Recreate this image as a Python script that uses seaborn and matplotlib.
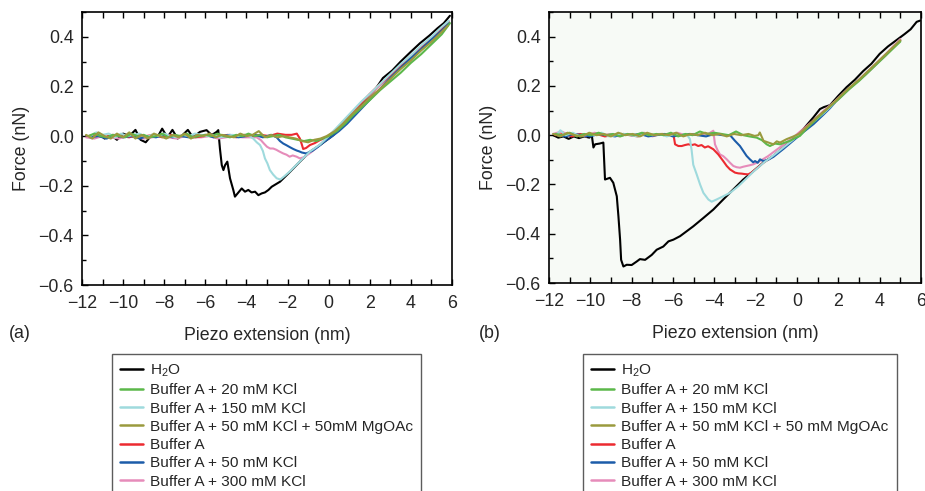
import pandas as pd
import matplotlib
matplotlib.use('Agg')
import matplotlib.pyplot as plt
from matplotlib.lines import Line2D
from matplotlib.ticker import MultipleLocator
import seaborn as sns

# 조건 이름 (범례 순서)
labels_a = ['H$_2$O', 'Buffer A + 20 mM KCl', 'Buffer A + 150 mM KCl',
            'Buffer A + 50 mM KCl + 50mM MgOAc', 'Buffer A',
            'Buffer A + 50 mM KCl', 'Buffer A + 300 mM KCl']
labels_b = ['H$_2$O', 'Buffer A + 20 mM KCl', 'Buffer A + 150 mM KCl',
            'Buffer A + 50 mM KCl + 50 mM MgOAc', 'Buffer A',
            'Buffer A + 50 mM KCl', 'Buffer A + 300 mM KCl']
colors = ['#000000', '#5cb84a', '#9fdadd', '#9a9a3e', '#ec2a30', '#1c5ca9', '#e68cba']
# 그리는 순서 (범례 인덱스)
draw_order = [0, 6, 4, 5, 2, 1, 3]

# ---------------- (a) ----------------
a_h2o_x = [-11.8, -11.5, -11.2, -10.9, -10.6, -10.3, -10.0, -9.7, -9.4, -9.15, -8.9, -8.6, -8.3, -8.1, -7.85,
           -7.6, -7.35, -7.1, -6.85, -6.6, -6.26, -5.94, -5.69, -5.45, -5.37, -5.29, -5.2, -5.12, -5.04, -4.93,
           -4.8, -4.64, -4.56, -4.4, -4.23, -4.07, -3.91, -3.75, -3.58, -3.42, -3.26, -3.1, -2.93, -2.77, -2.37,
           -1.88, -1.4, -0.91, -0.42, 0.23, 0.88, 1.3, 1.8, 2.2, 2.64, 3.1, 3.5, 4.0, 4.44, 4.9, 5.3, 5.6, 5.9]
a_h2o_y = [0.0, -0.005, 0.01, -0.01, 0.005, -0.015, 0.01, 0.0, 0.025, -0.015, -0.025, 0.005, 0.0, 0.03, -0.005,
           0.025, -0.01, 0.005, 0.025, -0.005, 0.017, 0.024, 0.004, 0.017, 0.024, -0.05, -0.117, -0.137, -0.117, -0.103,
           -0.17, -0.217, -0.244, -0.228, -0.211, -0.224, -0.217, -0.227, -0.224, -0.238, -0.231, -0.227, -0.217, -0.204, -0.184,
           -0.144, -0.103, -0.063, -0.036, 0.004, 0.071, 0.1, 0.145, 0.18, 0.234, 0.265, 0.3, 0.34, 0.374, 0.405, 0.435, 0.455, 0.485]

a_k20_x = [-11.7, -11.4, -11.1, -10.8, -10.5, -10.2, -9.9, -9.6, -9.3, -9.0, -8.7, -8.4, -8.1, -7.8, -7.5, -7.2,
           -6.9, -6.6, -6.3, -6.0, -5.7, -5.4, -5.1, -4.8, -4.5, -4.2, -3.9, -3.6, -3.3, -3.0, -2.7, -2.4, -2.1,
           -1.8, -1.5, -1.2, -0.9, -0.6, -0.3, 0.0, 0.4, 0.8, 1.2, 1.6, 2.0, 2.5, 3.0, 3.5, 4.0, 4.5, 5.0, 5.5, 5.9]
a_k20_y = [0.0, 0.01, 0.0, -0.005, 0.005, 0.0, -0.005, 0.01, 0.0, 0.005,
           -0.005, 0.0, 0.01, -0.005, 0.005, 0.0, 0.01, -0.005, 0.0, 0.005,
           0.0, 0.01, 0.0, -0.005, 0.005, 0.0, 0.01, 0.0, 0.005, -0.005,
           0.0, 0.005, -0.005, -0.01, -0.015, -0.02, -0.015, -0.02, -0.01,
           0.0, 0.02, 0.05, 0.085, 0.115, 0.145, 0.185, 0.22, 0.255, 0.295, 0.33, 0.37, 0.41, 0.455]

a_k150_x = [-11.6, -11.3, -11.0, -10.7, -10.4, -10.1, -9.8, -9.5, -9.2, -8.9, -8.6, -8.3, -8.0, -7.7, -7.4, -7.1,
            -6.8, -6.5, -6.2, -5.9, -5.6, -5.3, -5.0, -4.7, -4.4, -4.1, -3.85, -3.67, -3.5, -3.34, -3.2, -3.1,
            -2.98, -2.86, -2.7, -2.53, -2.35, -2.13, -1.88, -1.4, -0.91, -0.42, 0.0, 0.4, 0.8, 1.2, 1.6, 2.0,
            2.5, 3.0, 3.5, 4.0, 4.5, 5.0, 5.5, 5.85]
a_k150_y = [0.0, 0.015, 0.005, 0.01, -0.005, 0.01, 0.0, 0.005, 0.01, -0.005,
            0.005, 0.0, 0.01, 0.0, -0.005, 0.005, 0.0, 0.01, 0.005, 0.0,
            0.005, -0.005, 0.0, 0.005, 0.0, 0.005,
            0.0, -0.01, -0.025, -0.036, -0.06, -0.09, -0.11, -0.137, -0.155, -0.17,
            -0.175, -0.16, -0.142, -0.102, -0.062, -0.034,
            0.0, 0.035, 0.07, 0.105, 0.14, 0.17, 0.21, 0.25, 0.29, 0.325, 0.365, 0.4, 0.44, 0.465]

a_mg_x = [-11.8, -11.5, -11.2, -10.9, -10.6, -10.3, -10.0, -9.7, -9.4, -9.1, -8.8, -8.5, -8.2, -7.9, -7.6, -7.3,
          -7.0, -6.7, -6.4, -6.1, -5.8, -5.5, -5.2, -4.9, -4.6, -4.3, -4.0, -3.7, -3.4, -3.1, -2.8, -2.5, -2.2,
          -1.9, -1.6, -1.3, -1.0, -0.7, -0.4, -0.1, 0.3, 0.7, 1.1, 1.5, 2.0, 2.5, 3.0, 3.5, 4.0, 4.5, 5.0, 5.5, 5.8]
a_mg_y = [0.005, -0.01, 0.015, 0.0, -0.01, 0.01, -0.005, 0.015, -0.01, 0.005,
          -0.01, 0.01, 0.0, -0.01, 0.005, -0.005, 0.01, -0.01, 0.005, 0.0,
          0.01, -0.005, 0.005, 0.0, -0.005, 0.01, 0.0, 0.005, 0.02, -0.005,
          0.005, -0.005, 0.0, -0.005, -0.01, -0.02, -0.025, -0.015, -0.01, 0.0,
          0.02, 0.05, 0.085, 0.115, 0.155, 0.19, 0.23, 0.27, 0.305, 0.345, 0.38, 0.42, 0.445]

a_buf_x = [-11.7, -11.3, -10.9, -10.5, -10.1, -9.7, -9.3, -8.9, -8.5, -8.1, -7.7, -7.3, -6.9, -6.5, -6.1, -5.7,
           -5.3, -4.9, -4.5, -4.1, -3.7, -3.3, -2.9, -2.5, -2.1, -1.8, -1.55, -1.4, -1.32, -1.24, -1.1, -0.91,
           -0.67, -0.42, -0.2, 0.0, 0.4, 0.8, 1.2, 1.6, 2.0, 2.5, 3.0, 3.5, 4.0, 4.5, 5.0, 5.5, 5.85]
a_buf_y = [0.0, 0.005, -0.005, 0.005, 0.0, -0.005, 0.005, 0.0, 0.005, -0.005,
           0.005, 0.0, 0.005, -0.005, 0.0, 0.005, 0.0, 0.005, -0.005, 0.005,
           0.0, 0.005, 0.0, 0.01, 0.005,
           0.005, 0.01, -0.01, -0.03, -0.052, -0.048, -0.036, -0.028, -0.016, -0.008,
           0.0, 0.03, 0.065, 0.1, 0.135, 0.17, 0.21, 0.245, 0.285, 0.32, 0.36, 0.395, 0.43, 0.46]

a_k50_x = [-11.6, -11.2, -10.8, -10.4, -10.0, -9.6, -9.2, -8.8, -8.4, -8.0, -7.6, -7.2, -6.8, -6.4, -6.0, -5.6,
           -5.2, -4.8, -4.4, -4.0, -3.6, -3.2, -2.8, -2.53, -2.37, -2.21, -2.05, -1.88, -1.72, -1.56, -1.42, -1.31,
           -1.1, -0.8, -0.5, -0.2, 0.1, 0.5, 0.9, 1.3, 1.7, 2.1, 2.5, 3.0, 3.5, 4.0, 4.5, 5.0, 5.5, 5.85]
a_k50_y = [-0.005, 0.0, -0.01, 0.005, -0.005, 0.0, -0.01, 0.0, -0.005, 0.005,
           -0.005, 0.0, -0.005, 0.0, 0.005, -0.005, 0.0, 0.005, -0.005, 0.0,
           0.005, -0.005, 0.005,
           -0.005, -0.02, -0.03, -0.037, -0.045, -0.052, -0.058, -0.062, -0.066, -0.07,
           -0.06, -0.042, -0.022,
           -0.005, 0.02, 0.05, 0.085, 0.12, 0.155, 0.19, 0.235, 0.275, 0.315, 0.35, 0.39, 0.425, 0.455]

a_k300_x = [-11.8, -11.4, -11.0, -10.6, -10.2, -9.8, -9.4, -9.0, -8.6, -8.2, -7.8, -7.4, -7.0, -6.6, -6.2, -5.8,
            -5.4, -5.0, -4.6, -4.2, -3.8, -3.5, -3.3, -3.15, -3.0, -2.85, -2.7, -2.55, -2.4, -2.21, -2.05, -1.9,
            -1.75, -1.56, -1.4, -1.2, -0.9, -0.6, -0.3, 0.0, 0.4, 0.8, 1.2, 1.6, 2.0, 2.5, 3.0, 3.5, 4.0, 4.5,
            5.0, 5.5, 5.85]
a_k300_y = [-0.005, -0.01, 0.0, -0.005, -0.01, 0.0, -0.005, -0.01, -0.005, 0.0,
            -0.005, -0.01, 0.0, -0.005, -0.005, 0.0, -0.01, -0.005, 0.0, -0.005,
            -0.005,
            -0.005, -0.016, -0.03, -0.043, -0.05, -0.05, -0.055, -0.062, -0.07,
            -0.075, -0.083, -0.078, -0.083, -0.09, -0.085,
            -0.068, -0.048, -0.025, -0.002,
            0.03, 0.065, 0.1, 0.135, 0.165, 0.205, 0.24, 0.28, 0.315, 0.355, 0.39, 0.43, 0.46]

# ---------------- (b) ----------------
b_h2o_x = [-11.8, -11.55, -11.3, -11.05, -10.8, -10.55, -10.3, -10.05, -9.93, -9.85, -9.77, -9.55, -9.37, -9.29,
           -9.05, -8.89, -8.72, -8.64, -8.56, -8.51, -8.4, -8.24, -8.0, -7.76, -7.6, -7.35, -7.03, -6.79, -6.47,
           -6.22, -5.98, -5.66, -5.34, -5.02, -4.53, -4.05, -3.57, -3.08, -2.6, -2.11, -1.63, -1.14, -0.66, -0.18,
           0.3, 0.79, 1.11, 1.3, 1.6, 2.0, 2.4, 2.8, 3.2, 3.6, 4.0, 4.4, 4.8, 5.2, 5.5, 5.79, 5.95]
b_h2o_y = [0.0, -0.01, -0.005, -0.015, -0.005, -0.012, -0.005, -0.01,
           0.0, -0.05, -0.037, -0.034, -0.03, -0.18, -0.173,
           -0.193, -0.248, -0.33, -0.424, -0.506, -0.533, -0.526, -0.527,
           -0.513, -0.503, -0.506, -0.486, -0.465, -0.452, -0.431, -0.424,
           -0.41, -0.39, -0.37, -0.336, -0.302, -0.261, -0.22, -0.18,
           -0.146, -0.111, -0.084, -0.05, -0.016,
           0.024, 0.072, 0.106, 0.114, 0.122, 0.16, 0.195, 0.225, 0.26, 0.29, 0.33,
           0.36, 0.385, 0.41, 0.43, 0.46, 0.465]

b_k20_x = [-11.7, -11.35, -11.0, -10.65, -10.3, -9.95, -9.6, -9.25, -8.9, -8.55, -8.2, -7.85, -7.5, -7.15, -6.8,
           -6.45, -6.1, -5.75, -5.4, -5.05, -4.7, -4.35, -4.0, -3.65, -3.3, -2.95, -2.6, -2.3, -1.95, -1.7, -1.47,
           -1.31, -1.07, -0.82, -0.58, -0.34, -0.1, 0.14, 0.5, 1.0, 1.5, 2.0, 2.5, 3.0, 3.5, 4.0, 4.5, 5.0]
b_k20_y = [0.005, 0.0, 0.01, -0.005, 0.005, 0.0, 0.01, 0.0, 0.005, -0.005,
           0.005, 0.0, 0.01, 0.0, 0.005, 0.0, 0.01, -0.005, 0.005, 0.0,
           0.015, 0.005, 0.01, 0.005, 0.0, 0.015, 0.0,
           -0.005, -0.01, -0.02, -0.037, -0.044, -0.034, -0.037, -0.03, -0.023, -0.012,
           -0.003, 0.03, 0.07, 0.11, 0.145, 0.185, 0.22, 0.26, 0.3, 0.34, 0.38]

b_k150_x = [-11.6, -11.45, -11.2, -10.85, -10.5, -10.15, -9.8, -9.45, -9.1, -8.75, -8.4, -8.05, -7.7, -7.35, -7.0,
            -6.65, -6.3, -5.95, -5.6, -5.35, -5.18, -5.1, -5.02, -4.85, -4.69, -4.53, -4.29, -4.13, -3.89, -3.57,
            -3.24, -2.84, -2.44, -2.11, -1.63, -1.14, -0.66, -0.18, 0.3, 0.8, 1.3, 1.8, 2.3, 2.8, 3.3, 3.8, 4.3,
            4.7, 5.0]
b_k150_y = [0.005, 0.02, 0.0, 0.01, -0.005, 0.005, 0.0, 0.01, -0.005, 0.0,
            0.005, 0.0, -0.005, 0.005, 0.0, 0.005, -0.005, 0.005, 0.0,
            0.005, -0.016, -0.06, -0.12, -0.16, -0.2, -0.234, -0.261, -0.27, -0.261,
            -0.248, -0.234, -0.207, -0.175, -0.148, -0.113, -0.082, -0.05, -0.018,
            0.02, 0.055, 0.09, 0.13, 0.17, 0.21, 0.245, 0.285, 0.325, 0.36, 0.385]

b_mg_x = [-11.8, -11.45, -11.1, -10.75, -10.4, -10.05, -9.7, -9.35, -9.0, -8.65, -8.3, -7.95, -7.6, -7.25, -6.9,
          -6.55, -6.2, -5.85, -5.5, -5.15, -4.8, -4.45, -4.1, -3.75, -3.4, -3.05, -2.7, -2.35, -2.05, -1.87, -1.8,
          -1.62, -1.38, -1.14, -0.98, -0.82, -0.5, -0.2, 0.1, 0.5, 1.0, 1.5, 2.0, 2.5, 3.0, 3.5, 4.0, 4.5, 5.0]
b_mg_y = [0.005, -0.005, 0.01, 0.0, -0.005, 0.01, 0.0, 0.005, -0.005, 0.01,
          0.0, 0.005, -0.005, 0.01, 0.0, 0.005, 0.0, 0.01, -0.005, 0.005,
          0.0, 0.01, 0.0, 0.005, -0.005, 0.005, 0.0, 0.005,
          -0.003, 0.0, 0.011, -0.023, -0.03, -0.037, -0.025, -0.03, -0.016, -0.006,
          0.005, 0.035, 0.075, 0.11, 0.15, 0.19, 0.225, 0.265, 0.305, 0.345, 0.385]

b_buf_x = [-11.7, -11.3, -10.9, -10.5, -10.1, -9.7, -9.3, -8.9, -8.5, -8.1, -7.7, -7.3, -6.9, -6.5, -6.1, -5.98,
           -5.9, -5.74, -5.58, -5.42, -5.26, -5.1, -4.94, -4.78, -4.62, -4.46, -4.3, -4.05, -3.81, -3.57, -3.4,
           -3.24, -3.0, -2.84, -2.68, -2.52, -2.36, -2.2, -2.0, -1.63, -1.14, -0.66, -0.18, 0.3, 0.8, 1.3, 1.8,
           2.3, 2.8, 3.3, 3.8, 4.3, 4.7, 5.0]
b_buf_y = [0.0, 0.005, -0.005, 0.005, 0.0, 0.005, -0.005, 0.0, 0.005, 0.0,
           -0.005, 0.005, 0.0, 0.005, 0.0,
           0.004, -0.037, -0.044, -0.044, -0.04, -0.037, -0.04, -0.037, -0.044, -0.04,
           -0.05, -0.045, -0.057, -0.078, -0.105, -0.125, -0.139, -0.152, -0.155, -0.156,
           -0.158, -0.159, -0.152, -0.138, -0.112, -0.084, -0.05, -0.016,
           0.022, 0.058, 0.095, 0.13, 0.17, 0.21, 0.245, 0.285, 0.325, 0.36, 0.385]

b_k50_x = [-11.6, -11.2, -10.8, -10.4, -10.0, -9.6, -9.2, -8.8, -8.4, -8.0, -7.6, -7.2, -6.8, -6.4, -6.0, -5.6,
           -5.2, -4.8, -4.4, -4.0, -3.6, -3.24, -3.0, -2.76, -2.6, -2.44, -2.28, -2.12, -2.03, -1.9, -1.79, -1.63,
           -1.4, -1.14, -0.66, -0.18, 0.3, 0.8, 1.3, 1.6, 1.84]
b_k50_y = [0.0, -0.005, 0.005, 0.0, -0.005, 0.005, 0.0, -0.005, 0.005, 0.0,
           0.005, -0.005, 0.0, 0.005, -0.005, 0.0, 0.005, 0.0, -0.005, 0.005,
           0.0,
           0.0, -0.023, -0.044, -0.064, -0.084, -0.098, -0.11, -0.105, -0.112,
           -0.098, -0.105, -0.1, -0.088, -0.056, -0.022,
           0.012, 0.045, 0.085, 0.11, 0.133]

b_k300_x = [-11.8, -11.4, -11.0, -10.6, -10.2, -9.8, -9.4, -9.0, -8.6, -8.2, -7.8, -7.4, -7.0, -6.6, -6.2, -5.8,
            -5.4, -5.0, -4.6, -4.3, -4.05, -3.97, -3.85, -3.73, -3.57, -3.4, -3.24, -3.08, -2.92, -2.76, -2.6,
            -2.44, -2.28, -2.11, -1.95, -1.79, -1.4, -1.0, -0.6, -0.2, 0.3, 0.8, 1.3, 1.8, 2.3, 2.8, 3.3, 3.8,
            4.3, 4.7, 5.0]
b_k300_y = [0.005, 0.015, 0.0, 0.005, -0.005, 0.01, 0.0, 0.005, -0.005, 0.005,
            0.0, 0.01, -0.005, 0.005, 0.0, 0.01, 0.0, 0.005, 0.0,
            0.005, 0.018, -0.037, -0.06, -0.078, -0.085, -0.098, -0.112, -0.125, -0.13,
            -0.132, -0.128, -0.125, -0.122, -0.118, -0.112, -0.105,
            -0.085, -0.06, -0.035, -0.01,
            0.025, 0.06, 0.1, 0.135, 0.175, 0.21, 0.25, 0.29, 0.33, 0.365, 0.39]

curves_a = [(a_h2o_x, a_h2o_y), (a_k20_x, a_k20_y), (a_k150_x, a_k150_y), (a_mg_x, a_mg_y),
            (a_buf_x, a_buf_y), (a_k50_x, a_k50_y), (a_k300_x, a_k300_y)]
curves_b = [(b_h2o_x, b_h2o_y), (b_k20_x, b_k20_y), (b_k150_x, b_k150_y), (b_mg_x, b_mg_y),
            (b_buf_x, b_buf_y), (b_k50_x, b_k50_y), (b_k300_x, b_k300_y)]


def long_df(curves):
    parts = []
    for i, (xs, ys) in enumerate(curves):
        parts.append(pd.DataFrame({'x': xs, 'force': ys, 'cond': i}))
    return pd.concat(parts, ignore_index=True)


sns.set_style('ticks')
plt.rcParams['font.family'] = ['Liberation Sans', 'DejaVu Sans']
plt.rcParams['mathtext.default'] = 'regular'
plt.rcParams['axes.unicode_minus'] = True

fig = plt.figure(figsize=(9.25, 4.91), dpi=100)
ax_a = fig.add_axes([82 / 925, 1 - 285 / 491, 370 / 925, 273 / 491])
ax_b = fig.add_axes([549 / 925, 1 - 283 / 491, 372 / 925, 271 / 491])

palette = {i: colors[i] for i in range(7)}
fs = 12.8

for ax, curves, labels, tag, tag_x in [(ax_a, curves_a, labels_a, '(a)', 9 / 925),
                                       (ax_b, curves_b, labels_b, '(b)', 479 / 925)]:
    df = long_df(curves)
    sns.lineplot(data=df, x='x', y='force', hue='cond', hue_order=draw_order, palette=palette,
                 estimator=None, sort=False, linewidth=1.5, legend=False, ax=ax)
    ax.set_xlim(-12, 6)
    ax.set_ylim(-0.6, 0.5)
    ax.xaxis.set_major_locator(MultipleLocator(2))
    ax.xaxis.set_minor_locator(MultipleLocator(1))
    ax.yaxis.set_major_locator(MultipleLocator(0.2))
    ax.yaxis.set_minor_locator(MultipleLocator(0.1))
    ax.yaxis.set_major_formatter(matplotlib.ticker.FuncFormatter(
        lambda v, p: f'{v:.1f}'.replace('-', '\u2212') if abs(v) > 1e-9 else '0.0'))
    ax.tick_params(which='both', direction='in', top=True, right=False, width=1.0,
                   labelsize=fs, color='black')
    ax.tick_params(axis='x', which='major', length=4.5, pad=7)
    ax.tick_params(axis='x', which='minor', length=4.5)
    ax.tick_params(axis='y', which='major', length=4.5, pad=6)
    ax.tick_params(axis='y', which='minor', length=3)
    for sp in ax.spines.values():
        sp.set_linewidth(1.2)
        sp.set_color('black')
    ax.set_xlabel('Piezo extension (nm)', fontsize=fs, labelpad=11)
    ax.set_ylabel('Force (nN)', fontsize=fs, labelpad=6)
    fig.text(tag_x, 1 - 333 / 491, tag, fontsize=fs, va='center', ha='left')

    handles = [Line2D([], [], color=colors[i], linewidth=1.8) for i in range(7)]
    box_x = 112 / 925 if ax is ax_a else 583 / 925
    leg = fig.legend(handles, labels, loc='upper left', bbox_to_anchor=(box_x, 1 - 354 / 491),
                     bbox_transform=fig.transFigure, frameon=True, fancybox=False,
                     edgecolor='#333333', fontsize=11.1, handlelength=1.45, handletextpad=0.45,
                     borderpad=0.55, labelspacing=0.28, borderaxespad=0)
    leg.get_frame().set_linewidth(1.0)

ax_b.set_facecolor('#f7faf6')

fig.savefig('out.png', dpi=100)
